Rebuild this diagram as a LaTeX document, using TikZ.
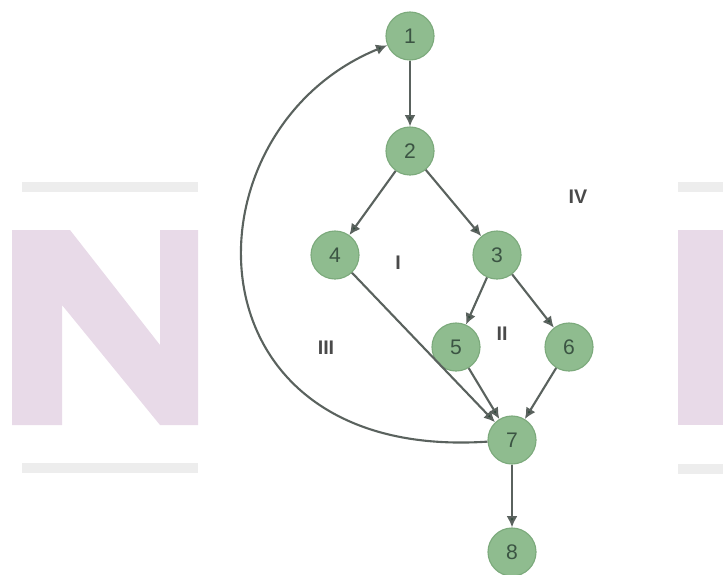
\documentclass[tikz,border=0pt]{standalone}
\usepackage{fontspec}
\setmainfont{Liberation Sans}
\usetikzlibrary{arrows.meta}
\definecolor{sage}{HTML}{8FBC8F}
\definecolor{sagedark}{HTML}{7CAA7C}
\definecolor{inkgreen}{HTML}{3B5443}
\definecolor{tipgreen}{HTML}{2E4A3A}
\definecolor{wire}{HTML}{5A625E}
\definecolor{regiongray}{HTML}{4A4A4A}
\definecolor{markpink}{HTML}{E8DAE8}
\definecolor{markgray}{HTML}{EDEDED}

\begin{document}
\begin{tikzpicture}[
    x=0.025cm,y=-0.025cm,
    font=\fontsize{15}{17}\selectfont,
    vertex/.style={circle,draw=sagedark,thick,fill=sage,text=inkgreen,
      minimum size=1.2cm,inner sep=0pt},
    region/.style={text=regiongray,font=\fontsize{14}{16}\selectfont\bfseries},
    arr/.style={-{Latex[length=2.8mm,width=2.7mm,fill=tipgreen]},line width=1.5pt,draw=wire}
  ]
  \useasboundingbox (0,0) rectangle (723,574);

  % faint watermark behind the graph
  \fill[markgray] (22,182) rectangle (198,192);
  \fill[markgray] (22,463) rectangle (198,473);
  \fill[markgray] (678,182) rectangle (723,192);
  \fill[markgray] (678,464) rectangle (723,474);
  \fill[markpink] (12,230) -- (70,230) -- (160,345) -- (160,230) -- (198,230)
    -- (198,425) -- (160,425) -- (62,305) -- (62,425) -- (12,425) -- cycle;
  \fill[markpink] (678,230) rectangle (723,425);

  % vertices
  \node[vertex] (n1) at (410,36) {1};
  \node[vertex] (n2) at (410,151) {2};
  \node[vertex] (n4) at (335,255) {4};
  \node[vertex] (n3) at (497,255) {3};
  \node[vertex] (n5) at (456,347) {5};
  \node[vertex] (n6) at (569,347) {6};
  \node[vertex] (n7) at (512,440) {7};
  \node[vertex] (n8) at (512,552) {8};

  % regions
  \node[region] (r1) at (398,263) {I};
  \node[region] (r2) at (502,334) {II};
  \node[region] (r3) at (326,348) {III};
  \node[region] (r4) at (578,197) {IV};

  % edges
  \draw[arr] (n1) -- (n2);
  \draw[arr] (n2) -- (n4);
  \draw[arr] (n2) -- (n3);
  \draw[arr] (n3) -- (n5);
  \draw[arr] (n3) -- (n6);
  \draw[arr] (n4) -- (n7);
  \draw[arr] (n5) -- (n7);
  \draw[arr] (n6) -- (n7);
  \draw[arr] (n7) -- (n8);
  \draw[arr] (n7) .. controls (180,462) and (180,130) .. (n1);
\end{tikzpicture}
\end{document}
